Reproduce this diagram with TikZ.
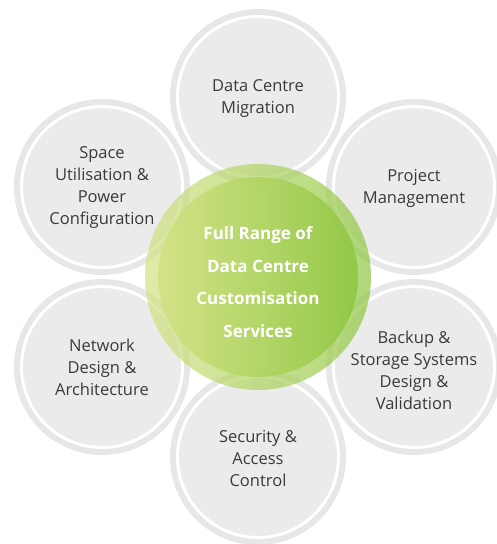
\documentclass[tikz,border=0pt]{standalone}
\usepackage{fontspec}
\setmainfont{Open Sans}
\definecolor{svcgray}{HTML}{EBEBEB}
\definecolor{svcring}{HTML}{E7E7E7}
\definecolor{svctext}{HTML}{3A3A3A}
\definecolor{hubleft}{HTML}{D3E283}
\definecolor{hubright}{HTML}{8DC63F}
\tikzset{
  svc/.style={circle,fill=svcgray,draw=white,line width=3pt,minimum size=161pt,
    preaction={draw=svcring,line width=15pt},align=center,text=svctext,
    font=\fontsize{16.5}{22}\selectfont},
  svctxt/.style={align=center,text=svctext,font=\fontsize{16.5}{22}\selectfont},
  hubring/.style={circle,minimum size=226pt,left color=hubleft,right color=hubright,
    fill opacity=0.7},
  hub/.style={circle,minimum size=200pt,left color=hubleft,right color=hubright,
    fill opacity=0.85},
  hubtxt/.style={align=center,text=white,font=\bfseries\fontsize{17}{32.5}\selectfont}
}
\begin{document}
\begin{tikzpicture}[x=1pt,y=-1pt]
  \useasboundingbox (0,0) rectangle (497,544);
  \node[svc] (mig) at (258,97) {};
  \node[svc] (proj) at (414,187) {};
  \node[svc] (backup) at (414,367) {};
  \node[svc] (sec) at (258,457) {};
  \node[svc] (net) at (102,367) {};
  \node[svc] (space) at (102,187) {};
  \node[svctxt] (migt) at ([yshift=-2pt]mig) {Data Centre\\Migration};
  \node[svctxt] (projt) at ([yshift=-1pt]proj) {Project\\Management};
  \node[svctxt] (backupt) at ([yshift=-3pt]backup) {Backup \&\\Storage Systems\\Design \&\\Validation};
  \node[svctxt] (sect) at ([yshift=-2pt]sec) {Security \&\\Access\\Control};
  \node[svctxt] (nett) at (net) {Network\\Design \&\\Architecture};
  \node[svctxt] (spacet) at ([yshift=-1pt]space) {Space\\Utilisation \&\\Power\\Configuration};
  % centre
  \node[hubring] (hubr) at (258,277) {};
  \node[hub] (hub) at (hubr) {};
  \node[hubtxt] (hubt) at ([yshift=-5pt]hub) {Full Range of\\Data Centre\\Customisation\\Services};
\end{tikzpicture}
\end{document}
